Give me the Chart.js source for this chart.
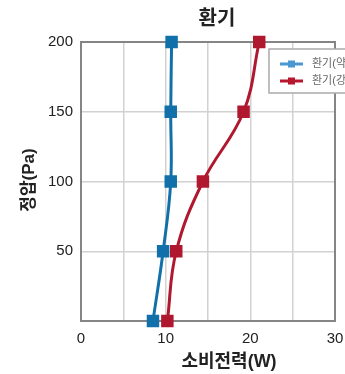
<!DOCTYPE html>
<html>
<head>
<meta charset="utf-8">
<script src="https://cdn.jsdelivr.net/npm/chart.js@4"></script>
<style>
html,body{margin:0;padding:0;background:#fff}
#wrap{width:345px;height:374px}
</style>
</head>
<body>
<div id="wrap"><canvas id="c" width="345" height="374"></canvas></div>
<script>
const pressure = [0, 50, 100, 150, 200]
const weakPower = [8.5, 9.7, 10.6, 10.6, 10.7]
const strongPower = [10.2, 11.25, 14.4, 19.2, 21.05]
const seriesNames = ["환기(약)", "환기(강)"]
const xTicks = [0, 10, 20, 30]
const yTicks = [50, 100, 150, 200]

const FONT = '"Liberation Sans", Arial, "Noto Sans CJK KR", sans-serif'
const BLUE = "#1170aa"
const RED = "#b0182f"

function pts(xs){
return xs.map((x,i)=>({x:x, y:pressure[i]}))
}

const textPlugin = {
id:"texts",
beforeDatasetsDraw(chart){
const a = chart.chartArea
const ctx = chart.ctx
ctx.save()
ctx.strokeStyle = "#858585"
ctx.lineWidth = 2
ctx.strokeRect(a.left, a.top, a.right-a.left, a.bottom-a.top)
ctx.restore()
},
afterDraw(chart){
const ctx = chart.ctx
ctx.save()
ctx.fillStyle = "#222"
ctx.textAlign = "center"
ctx.textBaseline = "middle"
ctx.font = "bold 20px " + FONT
ctx.fillText("환기", 217, 19)
ctx.font = "bold 18px " + FONT
ctx.fillText("소비전력(W)", 229, 362)
ctx.save()
ctx.translate(29, 180)
ctx.rotate(-Math.PI/2)
ctx.font = "bold 17px " + FONT
ctx.fillText("정압(Pa)", 0, 0)
ctx.restore()

// legend
ctx.fillStyle = "#fff"
ctx.fillRect(269, 49, 90, 44)
ctx.strokeStyle = "#aaaaaa"
ctx.lineWidth = 1.5
ctx.strokeRect(269, 49, 90, 44)
const lc = ["#4a98d2", "#b8182f"]
const ly = [64, 81]
for(let i=0;i<2;i++){
ctx.strokeStyle = lc[i]
ctx.lineWidth = 3
ctx.beginPath()
ctx.moveTo(280, ly[i])
ctx.lineTo(303, ly[i])
ctx.stroke()
ctx.fillStyle = lc[i]
ctx.fillRect(288, ly[i]-3.5, 7, 7)
ctx.fillStyle = "#666"
ctx.textAlign = "left"
ctx.font = "11px " + FONT
ctx.fillText(seriesNames[i], 312, ly[i])
}
ctx.restore()
}
}

new Chart(document.getElementById("c"),{
type:"scatter",
data:{
datasets:[
{
label:seriesNames[0],
data:pts(weakPower),
showLine:true,
borderColor:BLUE,
backgroundColor:BLUE,
borderWidth:3,
tension:0.4,
pointStyle:"rect",
pointRadius:6.7,
pointHoverRadius:6.7,
clip:false
},
{
label:seriesNames[1],
data:pts(strongPower),
showLine:true,
borderColor:RED,
backgroundColor:RED,
borderWidth:3,
tension:0.4,
pointStyle:"rect",
pointRadius:6.7,
pointHoverRadius:6.7,
clip:false
}
]
},
options:{
responsive:false,
animation:false,
layout:{padding:{top:42, right:10, left:0, bottom:0}},
plugins:{legend:{display:false}, title:{display:false}, tooltip:{enabled:false}},
scales:{
x:{
type:"linear",
min:0, max:30,
afterFit(s){ s.height = 53; s.paddingRight = 0; s.paddingLeft = 0 },
ticks:{
stepSize:5,
padding:9,
color:"#222",
font:{family:FONT, size:15},
callback:v => xTicks.includes(v) ? String(v) : ""
},
grid:{color:"#d2d2d2", lineWidth:1.5, drawTicks:false},
border:{display:false}
},
y:{
min:0, max:200,
afterFit(s){ s.width = 81; s.paddingTop = 0; s.paddingBottom = 0 },
ticks:{
stepSize:50,
padding:8,
color:"#222",
font:{family:FONT, size:15},
callback:v => yTicks.includes(v) ? String(v) : ""
},
grid:{color:"#d2d2d2", lineWidth:1.5, drawTicks:false},
border:{display:false}
}
}
},
plugins:[textPlugin]
})
</script>
</body>
</html>
